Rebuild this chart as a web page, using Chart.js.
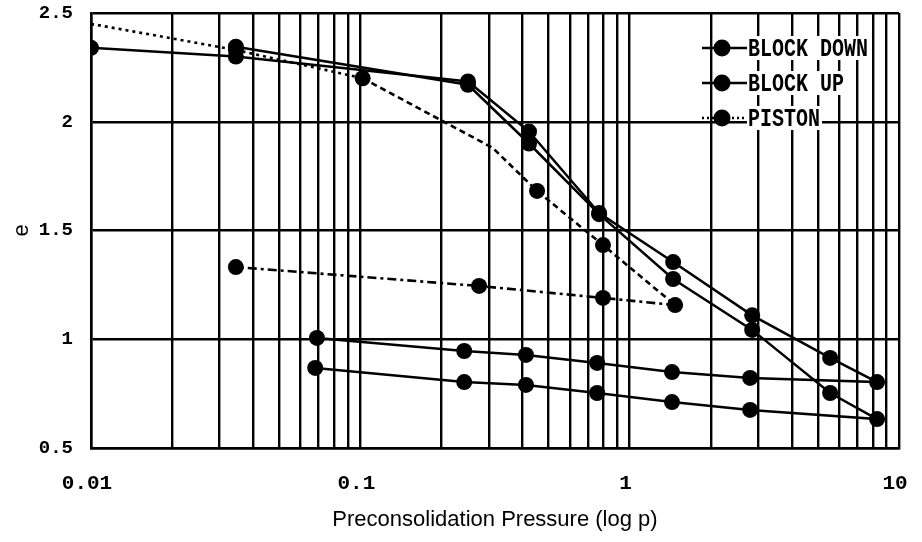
<!DOCTYPE html>
<html>
<head>
<meta charset="utf-8">
<script src="https://cdn.jsdelivr.net/npm/chart.js@4/dist/chart.umd.min.js"></script>
<style>
html,body{margin:0;padding:0;background:#fff;}
canvas{display:block;}
</style>
</head>
<body>
<canvas id="c" width="922" height="542"></canvas>
<script>
// ---- data ----
const blockDownP = [0.01, 0.0345, 0.251, 0.423, 0.77, 1.45, 2.85, 5.55, 8.29, 2.80, 1.436, 0.757, 0.412, 0.243, 0.069];
const blockDownE = [2.34, 2.30, 2.185, 1.955, 1.58, 1.355, 1.11, 0.914, 0.803, 0.822, 0.849, 0.891, 0.928, 0.946, 1.006];
const blockUpP = [0.0345, 0.251, 0.423, 0.77, 1.45, 2.85, 5.55, 8.29, 2.80, 1.436, 0.757, 0.412, 0.243, 0.068];
const blockUpE = [2.345, 2.17, 1.90, 1.575, 1.277, 1.043, 0.753, 0.633, 0.675, 0.711, 0.753, 0.790, 0.803, 0.868];
const pistonP = [0.01, 0.0345, 0.102, 0.31, 0.453, 0.796, 1.475, 0.796, 0.276, 0.0345];
const pistonE = [2.45, 2.33, 2.20, 1.88, 1.682, 1.433, 1.157, 1.19, 1.245, 1.332];
const seriesNames = ['BLOCK DOWN', 'BLOCK UP', 'PISTON'];
const xGridValues = [0.01,0.02,0.03,0.04,0.05,0.06,0.07,0.08,0.09,
                     0.1,0.2,0.3,0.4,0.5,0.6,0.7,0.8,0.9,
                     1,2,3,4,5,6,7,8,9,10];
const xTickLabels = {0.01:'0.01', 0.1:'0.1', 1:'1', 10:'10'};
const yTickValues = [0.5, 1, 1.5, 2, 2.5];
const xTitle = 'Preconsolidation Pressure (log p)';
const yTitle = 'e';

const pts = (xs, ys) => xs.map((x, i) => ({x: x, y: ys[i]}));

const legendPlugin = {
  id: 'inLegend',
  afterDatasetsDraw(chart) {
    const ctx = chart.ctx;
    const rows = [48, 83, 118];
    ctx.save();
    chart.data.datasets.forEach((ds, i) => {
      const y = rows[i];
      ctx.strokeStyle = '#000';
      ctx.lineWidth = 2.5;
      ctx.setLineDash(i === 2 ? [2, 3] : []);
      ctx.beginPath();
      ctx.moveTo(702, y);
      ctx.lineTo(747, y);
      ctx.stroke();
      ctx.setLineDash([]);
      ctx.fillStyle = '#000';
      ctx.beginPath();
      ctx.arc(722, y, 8.5, 0, Math.PI * 2);
      ctx.fill();
      ctx.font = 'bold 20px "Liberation Mono", monospace';
      const w = ctx.measureText(ds.label).width;
      ctx.fillStyle = '#fff';
      ctx.fillRect(747, y - 12, w + 3, 24);
      ctx.save();
      ctx.translate(748, y);
      ctx.scale(1, 1.3);
      ctx.fillStyle = '#000';
      ctx.textAlign = 'left';
      ctx.textBaseline = 'middle';
      ctx.fillText(ds.label, 0, 1);
      ctx.restore();
    });
    ctx.restore();
  }
};

new Chart(document.getElementById('c'), {
  type: 'line',
  data: {
    datasets: [
      {
        label: seriesNames[0],
        data: pts(blockDownP, blockDownE),
        borderColor: '#000', backgroundColor: '#000',
        borderWidth: 2.5, pointRadius: 8, pointBorderWidth: 0,
        fill: false, tension: 0
      },
      {
        label: seriesNames[1],
        data: pts(blockUpP, blockUpE),
        borderColor: '#000', backgroundColor: '#000',
        borderWidth: 2.5, pointRadius: 8, pointBorderWidth: 0,
        fill: false, tension: 0
      },
      {
        label: seriesNames[2],
        data: pts(pistonP, pistonE),
        borderColor: '#000', backgroundColor: '#000',
        borderWidth: 2.6, pointBorderWidth: 0,
        pointStyle: ctx => ctx.dataIndex === 0 ? 'triangle' : 'circle',
        pointRadius: ctx => ctx.dataIndex === 0 ? 3.5 : (ctx.dataIndex === 3 ? 0 : 8),
        fill: false, tension: 0,
        segment: {
          borderDash: ctx => {
            const i = ctx.p0DataIndex;
            if (i <= 1) return [3, 4];
            if (i <= 5) return [6, 4];
            return [9, 4, 3, 4];
          }
        }
      }
    ]
  },
  options: {
    responsive: false,
    devicePixelRatio: 1,
    animation: false,
    layout: { padding: { top: 13, right: 23, left: 0, bottom: 0 } },
    plugins: { legend: { display: false }, tooltip: { enabled: false } },
    scales: {
      x: {
        type: 'logarithmic',
        min: 0.01, max: 10,
        afterBuildTicks: s => { s.ticks = xGridValues.map(v => ({value: v})); },
        afterFit: s => { s.height = 94; },
        grid: { color: '#000', lineWidth: 2.4, drawTicks: true, tickLength: 23, tickColor: 'rgba(0,0,0,0)' },
        border: { color: '#000', width: 2.5 },
        ticks: {
          autoSkip: false, maxRotation: 0, padding: 0, labelOffset: -4,
          color: '#000',
          font: { family: '"Liberation Mono", monospace', size: 21, weight: 'bold' },
          callback: v => xTickLabels[v] !== undefined ? xTickLabels[v] : ''
        },
        title: {
          display: true, text: xTitle, color: '#000',
          font: { family: '"Liberation Sans", Arial, sans-serif', size: 22 },
          padding: { top: 0, bottom: 9 }
        }
      },
      y: {
        type: 'linear',
        min: 0.5, max: 2.5,
        afterBuildTicks: s => { s.ticks = yTickValues.map(v => ({value: v})); },
        afterFit: s => { s.width = 91; },
        grid: { color: '#000', lineWidth: 2.4, drawTicks: true, tickLength: 18, tickColor: 'rgba(0,0,0,0)' },
        border: { color: '#000', width: 2.5 },
        ticks: {
          padding: 0, color: '#000',
          font: { family: '"Liberation Mono", monospace', size: 19, weight: 'bold' },
          callback: v => String(v)
        },
        title: {
          display: true, text: yTitle, color: '#000',
          font: { family: '"Liberation Sans", Arial, sans-serif', size: 22 },
          padding: { top: 9, bottom: 0 }
        }
      }
    }
  },
  plugins: [legendPlugin]
});
</script>
</body>
</html>
